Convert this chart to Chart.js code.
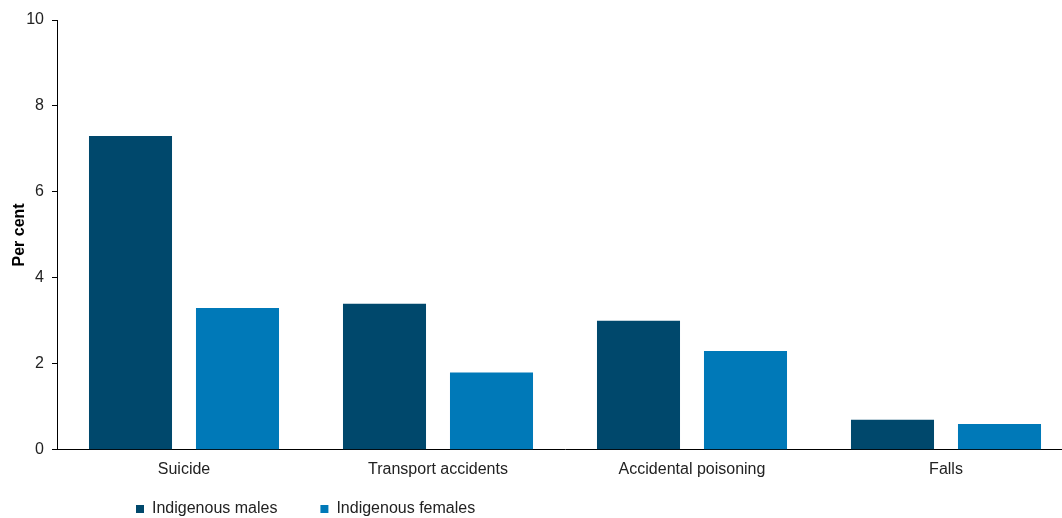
<!DOCTYPE html>
<html>
<head>
<meta charset="utf-8">
<script src="https://cdn.jsdelivr.net/npm/chart.js@4.4.0/dist/chart.umd.min.js"></script>
<style>
  html, body { margin: 0; padding: 0; background: #fff; overflow: hidden; }
  #wrap { width: 1075px; height: 518px; position: relative; }
</style>
</head>
<body>
<div id="wrap"><canvas id="barChart"></canvas></div>
<script>
// dati
var categories = ["Suicide", "Transport accidents", "Accidental poisoning", "Falls"];
var malesValues = [7.3, 3.4, 3.0, 0.7];
var femalesValues = [3.3, 1.8, 2.3, 0.6];
var yTicks = [0, 2, 4, 6, 8, 10];

Chart.defaults.font.family = "'Liberation Sans', Arial, sans-serif";
Chart.defaults.font.size = 16;
Chart.defaults.color = "#222";

// legenda: altezza ridotta e spostata come nell'originale
var legendShift = {
  id: "legendShift",
  afterInit: function(chart) {
    var lg = chart.legend;
    var origFit = lg.fit;
    lg.fit = function() {
      origFit.call(this);
      this.height = 37;
    };
  },
  afterLayout: function(chart) {
    var lg = chart.legend;
    lg.left += 93;
    lg.right += 93;
    lg.top = 458;
    lg.bottom = 518;
  }
};

function init() {
  var ctx = document.getElementById("barChart").getContext("2d");
  new Chart(ctx, {
    type: "bar",
    data: {
      labels: categories,
      datasets: [{
        label: "Indigenous males",
        data: malesValues,
        backgroundColor: "#00486C",
        categoryPercentage: 0.8425,
        barPercentage: 0.776
      }, {
        label: "Indigenous females",
        data: femalesValues,
        backgroundColor: "#0079B8",
        categoryPercentage: 0.8425,
        barPercentage: 0.776
      }]
    },
    options: {
      responsive: true,
      maintainAspectRatio: false,
      animation: false,
      layout: { padding: { top: 20, right: 2, left: 0, bottom: 0 } },
      plugins: {
        tooltip: { enabled: false },
        legend: {
          position: "bottom",
          align: "start",
          labels: {
            boxWidth: 8,
            boxHeight: 8,
            padding: 43,
            color: "#222"
          }
        }
      },
      scales: {
        x: {
          grid: { display: false },
          border: { color: "#000", width: 1 },
          ticks: { padding: 2, color: "#222" }
        },
        y: {
          min: 0,
          max: 10,
          afterBuildTicks: function(scale) {
            scale.ticks = yTicks.map(function(v) { return { value: v }; });
          },
          afterFit: function(scale) { scale.width = 57; },
          grid: { drawOnChartArea: false, tickLength: 5, color: "#000" },
          border: { color: "#000", width: 1 },
          ticks: { padding: 8, color: "#222" },
          title: {
            display: true,
            text: "Per cent",
            font: { weight: "bold", size: 16 },
            color: "#000",
            padding: { top: 10, bottom: 0 }
          }
        }
      }
    },
    plugins: [legendShift]
  });
}
init();
</script>
</body>
</html>
